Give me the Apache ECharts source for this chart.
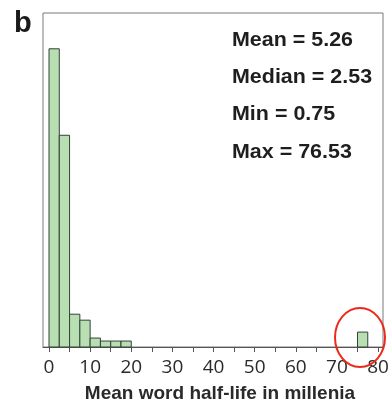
<!DOCTYPE html>
<html>
<head>
<meta charset="utf-8">
<script src="https://cdn.jsdelivr.net/npm/echarts@6/dist/echarts.min.js"></script>
<style>
  html, body { margin: 0; padding: 0; background: #fff; }
  #main { width: 392px; height: 407px; }
</style>
</head>
<body>
<div id="main"></div>
<script>
// histogram bins (start of each bin, in millenia), width 2.5
var binStart = [0, 2.5, 5, 7.5, 10, 12.5, 15, 17.5, 75];
var binWidth = 2.5;
var counts = [100, 71, 11, 9, 3, 2, 2, 2, 5];
var tickValues = [0, 5, 10, 15, 20, 25, 30, 35, 40, 45, 50, 55, 60, 65, 70, 75, 80];
var labelValues = [0, 10, 20, 30, 40, 50, 60, 70, 80];
var statLines = ['Mean = 5.26', 'Median = 2.53', 'Min = 0.75', 'Max = 76.53'];

var chartDom = document.getElementById('main');
var myChart = echarts.init(chartDom);

var data = binStart.map(function (s, i) { return [s, s + binWidth, counts[i]]; });

var graphics = [
  {
    type: 'text', left: 14, top: 9,
    style: { text: 'b', fontSize: 29, fontWeight: 'bold', fontFamily: 'Liberation Sans', fill: '#1a1a1a' }
  },
  {
    type: 'ellipse',
    shape: { cx: 360, cy: 337.5, rx: 25, ry: 29.5 },
    style: { fill: 'none', stroke: '#ec2a1c', lineWidth: 2 },
    z: 10
  }
];
statLines.forEach(function (t, i) {
  graphics.push({
    type: 'text', x: 232, y: 40.5 + i * 37.3, scaleX: 1.1,
    style: {
      text: t, fontSize: 19.5, fontWeight: 'bold', fontFamily: 'Liberation Sans',
      fill: '#1e1e1e', verticalAlign: 'middle'
    }
  });
});

var option = {
  animation: false,
  grid: {
    left: 43, right: 9, top: 13, bottom: 60,
    outerBoundsMode: 'none',
    show: true, borderColor: '#7a7a7a', borderWidth: 1
  },
  xAxis: {
    type: 'value',
    min: -1.46,
    max: 81.2,
    name: 'Mean word half-life in millenia',
    nameLocation: 'middle',
    nameGap: 37,
    nameTextStyle: {
      fontSize: 19, fontWeight: 'bold', fontFamily: 'Liberation Sans', color: '#2a2a2a',
      padding: [0, 0, 0, 14]
    },
    axisLine: { lineStyle: { color: '#555', width: 1 } },
    axisTick: { show: true, length: 5, customValues: tickValues, lineStyle: { color: '#555' } },
    axisLabel: {
      customValues: labelValues, fontSize: 19, margin: 11,
      fontFamily: 'Open Sans', color: '#2a2a2a'
    },
    splitLine: { show: false }
  },
  yAxis: {
    type: 'value', min: 0, max: 112, show: false
  },
  graphic: graphics,
  series: [{
    type: 'custom',
    data: data,
    encode: { x: [0, 1], y: 2 },
    renderItem: function (params, api) {
      var p0 = api.coord([api.value(0), 0]);
      var p1 = api.coord([api.value(1), api.value(2)]);
      return {
        type: 'rect',
        shape: { x: p0[0], y: p1[1], width: p1[0] - p0[0], height: p0[1] - p1[1] },
        style: { fill: '#b8dfb2', stroke: '#34403a', lineWidth: 1 }
      };
    }
  }]
};
myChart.setOption(option);
</script>
</body>
</html>
